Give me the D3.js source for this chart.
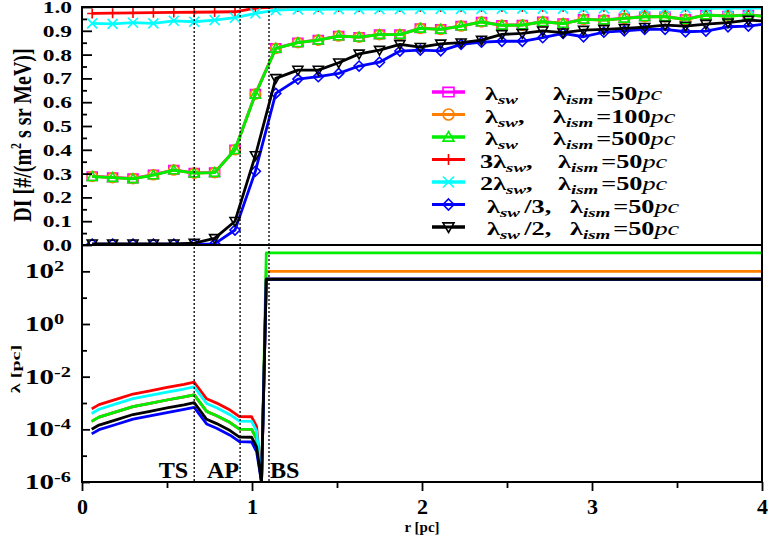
<!DOCTYPE html>
<html><head><meta charset="utf-8">
<script src="https://cdn.jsdelivr.net/npm/d3@7"></script>
<style>
body{margin:0;background:#fff}
text{font-family:"Liberation Serif","Times New Roman",serif;font-weight:bold;fill:#000}
</style>
</head><body>
<svg id="c" width="768" height="541"></svg>
<script>
// ---------- DATA ----------
const rTop = [0.06,0.18,0.30,0.42,0.54,0.66,0.78,0.90,1.02,1.14,1.27,1.39,1.51,1.63,1.75,1.87,1.99,2.11,2.23,2.35,2.47,2.59,2.71,2.83,2.95,3.07,3.19,3.31,3.43,3.55,3.67,3.80,3.92,4.04];
const diMagenta = [0.289,0.284,0.280,0.296,0.316,0.303,0.305,0.401,0.635,0.827,0.851,0.862,0.879,0.874,0.885,0.885,0.911,0.907,0.921,0.938,0.924,0.925,0.939,0.931,0.949,0.946,0.953,0.960,0.960,0.949,0.967,0.963,0.967,0.961];
const diOrange  = [0.288,0.283,0.279,0.295,0.315,0.302,0.304,0.400,0.634,0.826,0.850,0.861,0.878,0.873,0.884,0.884,0.910,0.906,0.920,0.937,0.923,0.924,0.938,0.930,0.948,0.945,0.952,0.959,0.959,0.948,0.966,0.962,0.966,0.960];
const diGreen   = [0.287,0.283,0.278,0.294,0.315,0.302,0.304,0.400,0.633,0.826,0.850,0.861,0.878,0.873,0.884,0.884,0.910,0.906,0.920,0.937,0.923,0.924,0.938,0.930,0.948,0.945,0.952,0.959,0.959,0.948,0.966,0.962,0.966,0.960];
const diRed     = [0.973,0.974,0.975,0.976,0.977,0.978,0.979,0.980,0.995,1.0,1.0,1.0,1.0,1.0,1.0,1.0,1.0,1.0,1.0,1.0,1.0,1.0,1.0,1.0,1.0,1.0,1.0,1.0,1.0,1.0,1.0,1.0,1.0,1.0];
const diCyan    = [0.931,0.929,0.934,0.931,0.942,0.938,0.945,0.955,0.973,0.987,0.990,0.990,0.991,0.991,0.991,0.991,0.992,0.992,0.992,0.992,0.993,0.993,0.993,0.993,0.993,0.994,0.994,0.994,0.994,0.994,0.994,0.995,0.995,0.995];
const diBlue    = [0.004,0.004,0.004,0.004,0.004,0.004,0.005,0.063,0.310,0.637,0.697,0.707,0.721,0.752,0.768,0.815,0.819,0.816,0.843,0.852,0.856,0.856,0.871,0.889,0.875,0.894,0.900,0.906,0.906,0.896,0.899,0.917,0.920,0.930];
const diBlack   = [0.005,0.005,0.005,0.005,0.005,0.008,0.028,0.100,0.376,0.700,0.735,0.735,0.766,0.803,0.819,0.843,0.831,0.845,0.850,0.861,0.885,0.889,0.900,0.892,0.903,0.906,0.910,0.915,0.924,0.920,0.928,0.934,0.945,0.940];

const rLam = [0.057,0.10,0.20,0.30,0.40,0.50,0.60,0.66,0.733,0.792,0.871,0.926,0.998,1.027,1.056,1.084,4.05];
const lamMagenta = [2.0e-4,2.9e-4,4.6e-4,7.3e-4,9.7e-4,1.3e-3,1.7e-3,2.05e-3,4.8e-4,3.3e-4,1.8e-4,1.02e-4,1.0e-4,4.3e-5,1e-6,50,50];
const lamOrange  = [2.0e-4,2.9e-4,4.6e-4,7.3e-4,9.7e-4,1.3e-3,1.7e-3,2.05e-3,4.8e-4,3.3e-4,1.8e-4,1.02e-4,1.0e-4,4.3e-5,1e-6,100,100];
const lamGreen   = [2.0e-4,2.9e-4,4.6e-4,7.3e-4,9.7e-4,1.3e-3,1.7e-3,2.05e-3,4.8e-4,3.3e-4,1.8e-4,1.02e-4,1.0e-4,4.3e-5,1e-6,500,500];
const lamRed     = [6.0e-4,8.7e-4,1.38e-3,2.19e-3,2.91e-3,3.9e-3,5.1e-3,6.15e-3,1.44e-3,9.9e-4,5.4e-4,3.06e-4,3.0e-4,1.29e-4,1e-6,50,50];
const lamCyan    = [4.0e-4,5.8e-4,9.2e-4,1.46e-3,1.94e-3,2.6e-3,3.4e-3,4.1e-3,9.6e-4,6.6e-4,3.6e-4,2.04e-4,2.0e-4,8.6e-5,1e-6,50,50];
const lamBlue    = [6.7e-5,9.7e-5,1.53e-4,2.43e-4,3.23e-4,4.3e-4,5.7e-4,6.8e-4,1.6e-4,1.1e-4,6.0e-5,3.4e-5,3.3e-5,1.43e-5,1e-6,50,50];
const lamBlack   = [1.0e-4,1.45e-4,2.3e-4,3.65e-4,4.85e-4,6.5e-4,8.5e-4,1.03e-3,2.4e-4,1.65e-4,9.0e-5,5.1e-5,5.0e-5,2.15e-5,1e-6,50,50];

const boundaries = [0.66, 0.93, 1.10];
const boundaryNames = ["TS", "AP", "BS"];

const xTicks = [0,1,2,3,4];
const xMinorTicks = [0.5,1.5,2.5,3.5];
const diTicks = [0,0.1,0.2,0.3,0.4,0.5,0.6,0.7,0.8,0.9,1.0];
const diMinorTicks = [0.05,0.15,0.25,0.35,0.45,0.55,0.65,0.75,0.85,0.95];
const lamTicks = [1e-6,1e-4,1e-2,1e0,1e2];
const lamTickExp = ["-6","-4","-2","0","2"];
const lamMinorTicks = [1e-5,1e-3,1e-1,1e1];

const legendPre   = ["λ","λ","λ","3λ","2λ","λ","λ"];
const legendMid   = ["",",","",",",",","/3,","/2,"];
const legendValue = ["50","100","500","50","50","50","50"];

// ---------- STYLES ----------
const series = [
  {di: diMagenta, lam: lamMagenta, color: "#ff00ff", marker: "square"},
  {di: diOrange,  lam: lamOrange,  color: "#ff8000", marker: "circle"},
  {di: diGreen,   lam: lamGreen,   color: "#00ee00", marker: "triUp"},
  {di: diRed,     lam: lamRed,     color: "#ff0000", marker: "plus"},
  {di: diCyan,    lam: lamCyan,    color: "#00ffff", marker: "cross"},
  {di: diBlue,    lam: lamBlue,    color: "#0000ff", marker: "diamond"},
  {di: diBlack,   lam: lamBlack,   color: "#000000", marker: "triDown"}
];
const legendX1 = [485,485,485,480,480,487,487];
const legendX2 = [553,553,553,558,558,570,570];
const SX = 1.38;   // horizontal glyph stretch seen in the reference
const SXL = 1.46;  // legend stretch

function markerPath(t, s) {
  switch (t) {
    case "square": return `M${-s},${-s*0.85}H${s}V${s*0.85}H${-s}Z`;
    case "circle": return d3.arc()({innerRadius:0,outerRadius:s,startAngle:0,endAngle:2*Math.PI});
    case "triUp": return `M0,${-s}L${s},${s*0.75}L${-s},${s*0.75}Z`;
    case "triDown": return `M0,${s}L${s},${-s*0.75}L${-s},${-s*0.75}Z`;
    case "plus": return `M${-s},0H${s}M0,${-s}V${s}`;
    case "cross": return `M${-s},${-s}L${s},${s}M${-s},${s}L${s},${-s}`;
    case "diamond": return `M0,${-s}L${s},0L0,${s}L${-s},0Z`;
  }
}
function stext(parent, x, y, sx, size, anchor) {
  return parent.append("g").attr("transform", `translate(${x},${y}) scale(${sx},1)`)
    .append("text").attr("font-size", size).attr("text-anchor", anchor || "start");
}

// ---------- LAYOUT ----------
const svg = d3.select("#c");
const L = 82, R = 762, T = 7, M = 245, B = 482;
const x = d3.scaleLinear().domain([0,4]).range([L,R]);
const yDI = d3.scaleLinear().domain([0,1]).range([M,T]);
const yLam = d3.scaleLog().domain([1e-6,1e3]).range([B,M]);

const defs = svg.append("defs");
defs.append("clipPath").attr("id","clipTop").append("rect").attr("x",L).attr("y",T-1).attr("width",R-L).attr("height",M-T+1);
defs.append("clipPath").attr("id","clipBot").append("rect").attr("x",L).attr("y",M).attr("width",R-L).attr("height",B-M);

const gTop = svg.append("g").attr("clip-path","url(#clipTop)");
series.forEach(s => {
  const pts = rTop.map((r,i)=>[r, s.di[i]]);
  gTop.append("path").datum(pts)
    .attr("d", d3.line().x(d=>x(d[0])).y(d=>yDI(d[1])))
    .attr("fill","none").attr("stroke",s.color).attr("stroke-width",2.8).attr("stroke-linejoin","round");
  gTop.selectAll(null).data(pts).enter().append("path")
    .attr("transform", d=>`translate(${x(d[0])},${yDI(d[1])})`)
    .attr("d", markerPath(s.marker, 5))
    .attr("fill","none").attr("stroke",s.color).attr("stroke-width",1.6);
});

const gBot = svg.append("g").attr("clip-path","url(#clipBot)");
series.forEach(s => {
  const pts = rLam.map((r,i)=>[r, s.lam[i]]);
  gBot.append("path").datum(pts)
    .attr("d", d3.line().x(d=>x(d[0])).y(d=>yLam(d[1])))
    .attr("fill","none").attr("stroke",s.color).attr("stroke-width",2.8).attr("stroke-linejoin","round");
});

boundaries.forEach(b => {
  svg.append("line").attr("x1",x(b)).attr("x2",x(b)).attr("y1",T).attr("y2",B)
    .attr("stroke","#000").attr("stroke-width",1.3).attr("stroke-dasharray","2,2");
});
stext(svg, x(boundaries[0])-6, B-4, 1.05, 23, "end").text(boundaryNames[0]);
stext(svg, x(boundaries[1])-1, B-4, 1.05, 23, "end").text(boundaryNames[1]);
stext(svg, x(boundaries[2])+1, B-4, 1.05, 23, "start").text(boundaryNames[2]);

svg.append("rect").attr("x",L).attr("y",T).attr("width",R-L).attr("height",B-T).attr("fill","none").attr("stroke","#000").attr("stroke-width",2);
svg.append("line").attr("x1",L).attr("x2",R).attr("y1",M).attr("y2",M).attr("stroke","#000").attr("stroke-width",2.2);

function styleAxis(g){ g.select(".domain").remove(); g.selectAll(".tick line").attr("stroke","#000").attr("stroke-width",1.8); }

svg.append("g").attr("transform",`translate(0,${B})`)
  .call(d3.axisBottom(x).tickValues(xTicks).tickSize(9).tickPadding(7).tickFormat(d3.format("d")))
  .call(styleAxis)
  .call(g=>g.selectAll("text").attr("font-size",22).attr("fill","#000"));
svg.append("g").attr("transform",`translate(0,${B})`)
  .call(d3.axisBottom(x).tickValues(xMinorTicks).tickSize(6).tickFormat(""))
  .call(styleAxis);

svg.append("g").attr("transform",`translate(${L},0)`)
  .call(d3.axisLeft(yDI).tickValues(diTicks).tickSize(-10).tickFormat(""))
  .call(styleAxis);
svg.append("g").attr("transform",`translate(${L},0)`)
  .call(d3.axisLeft(yDI).tickValues(diMinorTicks).tickSize(-5).tickFormat(""))
  .call(styleAxis);
const fmt1 = d3.format(".1f");
diTicks.forEach(v => {
  stext(svg, L-10, yDI(v)+6, SX, 17, "end").text(fmt1(v));
});

svg.append("g").attr("transform",`translate(${L},0)`)
  .call(d3.axisLeft(yLam).tickValues(lamTicks).tickSize(-8).tickFormat(""))
  .call(styleAxis);
svg.append("g").attr("transform",`translate(${L},0)`)
  .call(d3.axisLeft(yLam).tickValues(lamMinorTicks).tickSize(-5).tickFormat(""))
  .call(styleAxis);
lamTicks.forEach((v,i) => {
  const t = stext(svg, 25, yLam(v)+7, 1.45, 20, "start");
  t.append("tspan").text("10");
  t.append("tspan").attr("font-size",14).attr("dy",-7).text(lamTickExp[i]);
});

const yt = svg.append("g").attr("transform","translate(31,135) scale(1.25,1) rotate(-90)")
  .append("text").attr("text-anchor","middle").attr("font-size",20);
yt.append("tspan").text("DI [#/(m");
yt.append("tspan").attr("font-size",12).attr("dy",-8).text("2");
yt.append("tspan").attr("dy",8).text(" s sr MeV)]");
svg.append("g").attr("transform","translate(20,369) rotate(-90) scale(1.55,1)")
  .append("text").attr("text-anchor","middle").attr("font-size",13).text("λ [pc]");
svg.append("text").attr("x",x(2)).attr("y",532).attr("text-anchor","middle").attr("font-size",15).text("r [pc]");

series.forEach((s,i) => {
  const yy = 92 + 22.5*i;
  svg.append("line").attr("x1",432).attr("x2",465).attr("y1",yy).attr("y2",yy).attr("stroke",s.color).attr("stroke-width",2.8);
  svg.append("path").attr("transform",`translate(448.5,${yy})`).attr("d",markerPath(s.marker,5.5))
    .attr("fill","#fff").attr("stroke",s.color).attr("stroke-width",1.6);
  svg.append("line").attr("x1",432).attr("x2",465).attr("y1",yy).attr("y2",yy).attr("stroke",s.color).attr("stroke-width",2.8);
  const t1 = stext(svg, legendX1[i], yy+8, SXL, 18, "start");
  t1.append("tspan").text(legendPre[i]);
  t1.append("tspan").attr("font-size",13).attr("font-style","italic").attr("dy",4).text("sw");
  t1.append("tspan").attr("dy",-4).attr("dx",legendMid[i].startsWith("/")?3:0).text(legendMid[i]);
  const t2 = stext(svg, legendX2[i], yy+8, SXL, 18, "start");
  t2.append("tspan").text("λ");
  t2.append("tspan").attr("font-size",13).attr("font-style","italic").attr("dy",4).text("ism");
  t2.append("tspan").attr("dy",-4).attr("dx",2).text("=" + legendValue[i]);
  t2.append("tspan").attr("font-style","italic").attr("font-weight","normal").text("pc");
});
</script>
</body></html>
